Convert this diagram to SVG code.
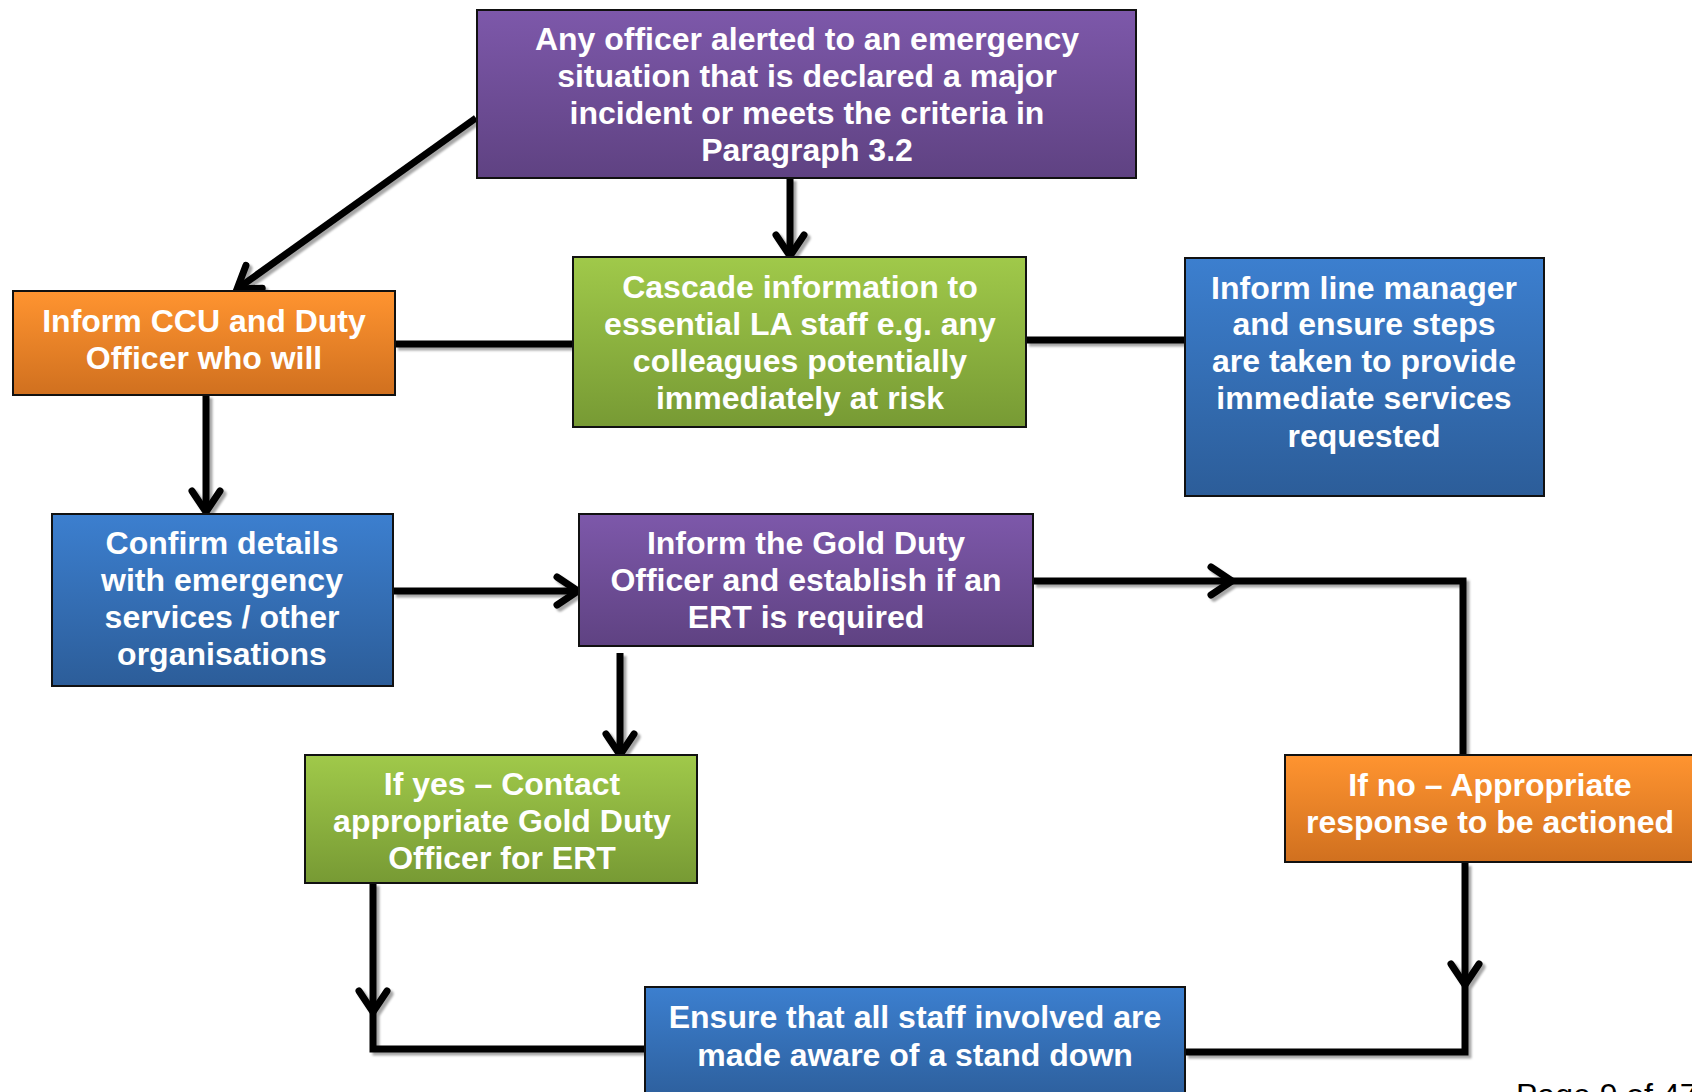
<svg xmlns="http://www.w3.org/2000/svg" width="1692" height="1092" viewBox="0 0 1692 1092">
<defs>
<linearGradient id="gP" x1="0" y1="0" x2="0" y2="1"><stop offset="0" stop-color="#7d58aa"/><stop offset="1" stop-color="#5f4282"/></linearGradient>
<linearGradient id="gO" x1="0" y1="0" x2="0" y2="1"><stop offset="0" stop-color="#ff9430"/><stop offset="1" stop-color="#d0701f"/></linearGradient>
<linearGradient id="gG" x1="0" y1="0" x2="0" y2="1"><stop offset="0" stop-color="#a0c94a"/><stop offset="1" stop-color="#779a34"/></linearGradient>
<linearGradient id="gB" x1="0" y1="0" x2="0" y2="1"><stop offset="0" stop-color="#3c7fcf"/><stop offset="1" stop-color="#2c5d99"/></linearGradient>
<filter id="sh" x="-10%" y="-10%" width="120%" height="120%"><feDropShadow dx="3" dy="3" stdDeviation="1" flood-color="#000" flood-opacity="0.35"/></filter>
<marker id="chev" markerUnits="userSpaceOnUse" orient="auto" viewBox="-26 -18 30 36" refX="0" refY="0" markerWidth="30" markerHeight="36" overflow="visible">
<path d="M-21,-14 L0,0 L-21,14" fill="none" stroke="#000" stroke-width="7" stroke-linecap="round" stroke-linejoin="miter"/>
</marker>
<style>
.box{stroke:#111;stroke-width:2}
.t{font-family:"Liberation Sans",Arial,sans-serif;font-weight:bold;font-size:32px;fill:#fff;text-anchor:middle}
.c{fill:none;stroke:#000;stroke-width:7}
.pg{font-family:"Liberation Sans",Arial,sans-serif;font-size:32px;fill:#000}
</style>
</defs>
<rect width="1692" height="1092" fill="#fff"/>

<g id="connectors" filter="url(#sh)">
<path class="c" d="M476,118 L237,289" marker-end="url(#chev)"/>
<path class="c" d="M790,178 L790,256" marker-end="url(#chev)"/>
<path class="c" d="M395,344 L573,344"/>
<path class="c" d="M1026,340 L1185,340"/>
<path class="c" d="M206,395 L206,512" marker-end="url(#chev)"/>
<path class="c" d="M393,591 L578,591" marker-end="url(#chev)"/>
<path class="c" d="M1033,581 L1232,581" marker-end="url(#chev)"/>
<path class="c" d="M1232,581 L1463,581 L1463,755"/>
<path class="c" d="M620,653 L620,755" marker-end="url(#chev)"/>
<path class="c" d="M373,883 L373,1012" marker-end="url(#chev)"/>
<path class="c" d="M373,1012 L373,1049 L645,1049"/>
<path class="c" d="M1465,863 L1465,985" marker-end="url(#chev)"/>
<path class="c" d="M1465,985 L1465,1052 L1185,1052"/>
</g>

<g id="n1"><rect class="box" x="477" y="10" width="659" height="168" fill="url(#gP)"/>
<text class="t" x="807" y="50">Any officer alerted to an emergency</text>
<text class="t" x="807" y="87">situation that is declared a major</text>
<text class="t" x="807" y="124">incident or meets the criteria in</text>
<text class="t" x="807" y="161">Paragraph 3.2</text></g>

<g id="n2"><rect class="box" x="13" y="291" width="382" height="104" fill="url(#gO)"/>
<text class="t" x="204" y="332">Inform CCU and Duty</text>
<text class="t" x="204" y="369">Officer who will</text></g>

<g id="n3"><rect class="box" x="573" y="257" width="453" height="170" fill="url(#gG)"/>
<text class="t" x="800" y="298">Cascade information to</text>
<text class="t" x="800" y="335">essential LA staff e.g. any</text>
<text class="t" x="800" y="372">colleagues potentially</text>
<text class="t" x="800" y="409">immediately at risk</text></g>

<g id="n4"><rect class="box" x="1185" y="258" width="359" height="238" fill="url(#gB)"/>
<text class="t" x="1364" y="299">Inform line manager</text>
<text class="t" x="1364" y="335">and ensure steps</text>
<text class="t" x="1364" y="372">are taken to provide</text>
<text class="t" x="1364" y="409">immediate services</text>
<text class="t" x="1364" y="447">requested</text></g>

<g id="n5"><rect class="box" x="52" y="514" width="341" height="172" fill="url(#gB)"/>
<text class="t" x="222" y="554">Confirm details</text>
<text class="t" x="222" y="591">with emergency</text>
<text class="t" x="222" y="628">services / other</text>
<text class="t" x="222" y="665">organisations</text></g>

<g id="n6"><rect class="box" x="579" y="514" width="454" height="132" fill="url(#gP)"/>
<text class="t" x="806" y="554">Inform the Gold Duty</text>
<text class="t" x="806" y="591">Officer and establish if an</text>
<text class="t" x="806" y="628">ERT is required</text></g>

<g id="n7"><rect class="box" x="305" y="755" width="392" height="128" fill="url(#gG)"/>
<text class="t" x="502" y="795">If yes – Contact</text>
<text class="t" x="502" y="832">appropriate Gold Duty</text>
<text class="t" x="502" y="869">Officer for ERT</text></g>

<g id="n8"><rect class="box" x="1285" y="755" width="420" height="107" fill="url(#gO)"/>
<text class="t" x="1490" y="796">If no – Appropriate</text>
<text class="t" x="1490" y="833">response to be actioned</text></g>

<g id="n9"><rect class="box" x="645" y="987" width="540" height="120" fill="url(#gB)"/>
<text class="t" x="915" y="1028">Ensure that all staff involved are</text>
<text class="t" x="915" y="1066">made aware of a stand down</text></g>

<text class="pg" x="1516" y="1106">Page 9 of 47</text>
</svg>
